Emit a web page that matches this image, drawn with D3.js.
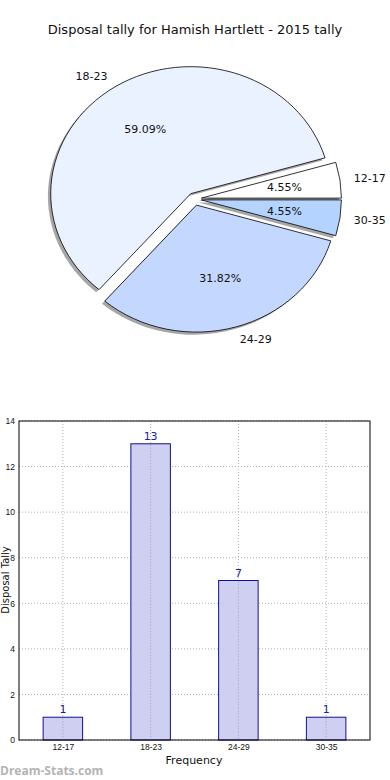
<!DOCTYPE html>
<html><head><meta charset="utf-8">
<script src="https://cdn.jsdelivr.net/npm/d3@7"></script>
<style>body{margin:0;background:#fff}svg{display:block}</style>
</head><body>
<svg id="c" width="390" height="780"></svg>
<script>
const categories = ["12-17","18-23","24-29","30-35"];
const values = [1,13,7,1];
const pieColors = ["#ffffff","#eaf1ff","#c4d8ff","#b4d4ff"];
const yTicks = [0,2,4,6,8,10,12,14];
const title = "Disposal tally for Hamish Hartlett - 2015 tally";

const svg = d3.select("#c");
const font = "DejaVu Sans, sans-serif";

svg.append("text").attr("x",195).attr("y",34).attr("text-anchor","middle")
  .attr("font-family",font).attr("font-size",13).attr("fill","#111").text(title);

// ---- Pie (matplotlib-style: counterclockwise from 3 o'clock, elliptical) ----
const cx = 194.5, cy = 199, Rx = 140, Ry = 127, explode = 0.05;
const sy = Ry/Rx;
const total = d3.sum(values);
const pie = d3.pie().sort(null).startAngle(Math.PI/2).endAngle(Math.PI/2 - 2*Math.PI);
const arcs = pie(values);
const arc = d3.arc().innerRadius(0).outerRadius(Rx);
const g = svg.append("g");
function centerOf(a){
  const mid = (a.startAngle + a.endAngle)/2;
  const ux = Math.sin(mid), uy = -Math.cos(mid);
  return {x: cx + explode*Rx*ux, y: cy + explode*Ry*uy, ux, uy};
}
arcs.forEach(a=>{
  const c = centerOf(a);
  g.append("path").attr("d",arc(a))
    .attr("transform",`translate(${c.x-2.8},${c.y+2.6}) scale(1,${sy})`)
    .attr("fill","#4d4d4d").attr("fill-opacity",0.5);
});
arcs.forEach((a,i)=>{
  const c = centerOf(a);
  g.append("path").attr("d",arc(a))
    .attr("transform",`translate(${c.x},${c.y}) scale(1,${sy})`)
    .attr("fill",pieColors[i]).attr("stroke","#000").attr("stroke-width",0.8)
    .attr("vector-effect","non-scaling-stroke").attr("stroke-linejoin","round");
});
arcs.forEach((a,i)=>{
  const c = centerOf(a);
  const lx = c.x + 1.1*Rx*c.ux, ly = c.y + 1.1*Ry*c.uy;
  g.append("text").attr("x",lx).attr("y",ly).attr("dy","0.35em")
    .attr("text-anchor", c.ux < 0 ? "end" : "start")
    .attr("font-family",font).attr("font-size",11).attr("fill","#111").text(categories[i]);
  const px = c.x + 0.6*Rx*c.ux, py = c.y + 0.6*Ry*c.uy;
  g.append("text").attr("x",px).attr("y",py).attr("dy","0.35em").attr("text-anchor","middle")
    .attr("font-family",font).attr("font-size",11).attr("fill","#111")
    .text((values[i]/total*100).toFixed(2)+"%");
});

// ---- Bar chart ----
const L = 19, R = 370, T = 421, B = 740;
const x = d3.scaleLinear().domain([-0.5, 3.5]).range([L, R]);
const y = d3.scaleLinear().domain([0, 14]).range([B, T]);
const bw = x(0.45) - x(0);
const bg = svg.append("g");

bg.selectAll(".gy").data(yTicks).join("line")
  .attr("x1",L).attr("x2",R).attr("y1",d=>y(d)).attr("y2",d=>y(d))
  .attr("stroke","#b0b0b0").attr("stroke-dasharray","1,2").attr("stroke-width",1);
bg.selectAll(".gx").data(categories).join("line")
  .attr("x1",(d,i)=>x(i)).attr("x2",(d,i)=>x(i)).attr("y1",T).attr("y2",B)
  .attr("stroke","#b0b0b0").attr("stroke-dasharray","1,2").attr("stroke-width",1);

bg.selectAll(".bar").data(values).join("rect")
  .attr("x",(d,i)=>x(i)-bw/2).attr("width",bw)
  .attr("y",d=>y(d)).attr("height",d=>B-y(d))
  .attr("fill","#ccccf0").attr("fill-opacity",0.95).attr("stroke","#10108a").attr("stroke-width",1);
bg.selectAll(".gx2").data(values).join("line")
  .attr("x1",(d,i)=>x(i)).attr("x2",(d,i)=>x(i)).attr("y1",d=>y(d)+1).attr("y2",B)
  .attr("stroke","#a0a0a8").attr("stroke-dasharray","1,2").attr("stroke-width",1);

bg.selectAll(".val").data(values).join("text")
  .attr("x",(d,i)=>x(i)).attr("y",d=>y(d)-4).attr("text-anchor","middle")
  .attr("font-family",font).attr("font-size",11).attr("fill","#1a1a9a").text(d=>d);

bg.append("rect").attr("x",L).attr("y",T).attr("width",R-L).attr("height",B-T)
  .attr("fill","none").attr("stroke","#000").attr("stroke-width",1);

const yAxis = d3.axisLeft(y).tickValues(yTicks).tickSize(0).tickPadding(4);
const ya = bg.append("g").attr("transform",`translate(${L},0)`).call(yAxis);
ya.select(".domain").remove();
ya.selectAll("text").attr("font-family","Liberation Sans Narrow, Liberation Sans, sans-serif").attr("font-size",8.5).attr("fill","#111");

const xAxis = d3.axisBottom(x).tickValues([0,1,2,3]).tickFormat(i=>categories[i]).tickSize(0).tickPadding(4);
const xa = bg.append("g").attr("transform",`translate(0,${B})`).call(xAxis);
xa.select(".domain").remove();
xa.selectAll("text").attr("font-family","Liberation Sans Narrow, Liberation Sans, sans-serif").attr("font-size",8.5).attr("fill","#111");

svg.append("text").attr("x",194).attr("y",764).attr("text-anchor","middle")
  .attr("font-family",font).attr("font-size",11).attr("fill","#111").text("Frequency");
svg.append("text").attr("transform","translate(9,580) rotate(-90)").attr("text-anchor","middle")
  .attr("font-family",font).attr("font-size",10).attr("fill","#111").text("Disposal Tally");

svg.append("text").attr("x",0).attr("y",775)
  .attr("font-family","Open Sans, DejaVu Sans, sans-serif").attr("font-size",12).attr("font-weight","bold")
  .attr("fill","#b4b4b4").text("Dream-Stats.com");
</script>
</body></html>
